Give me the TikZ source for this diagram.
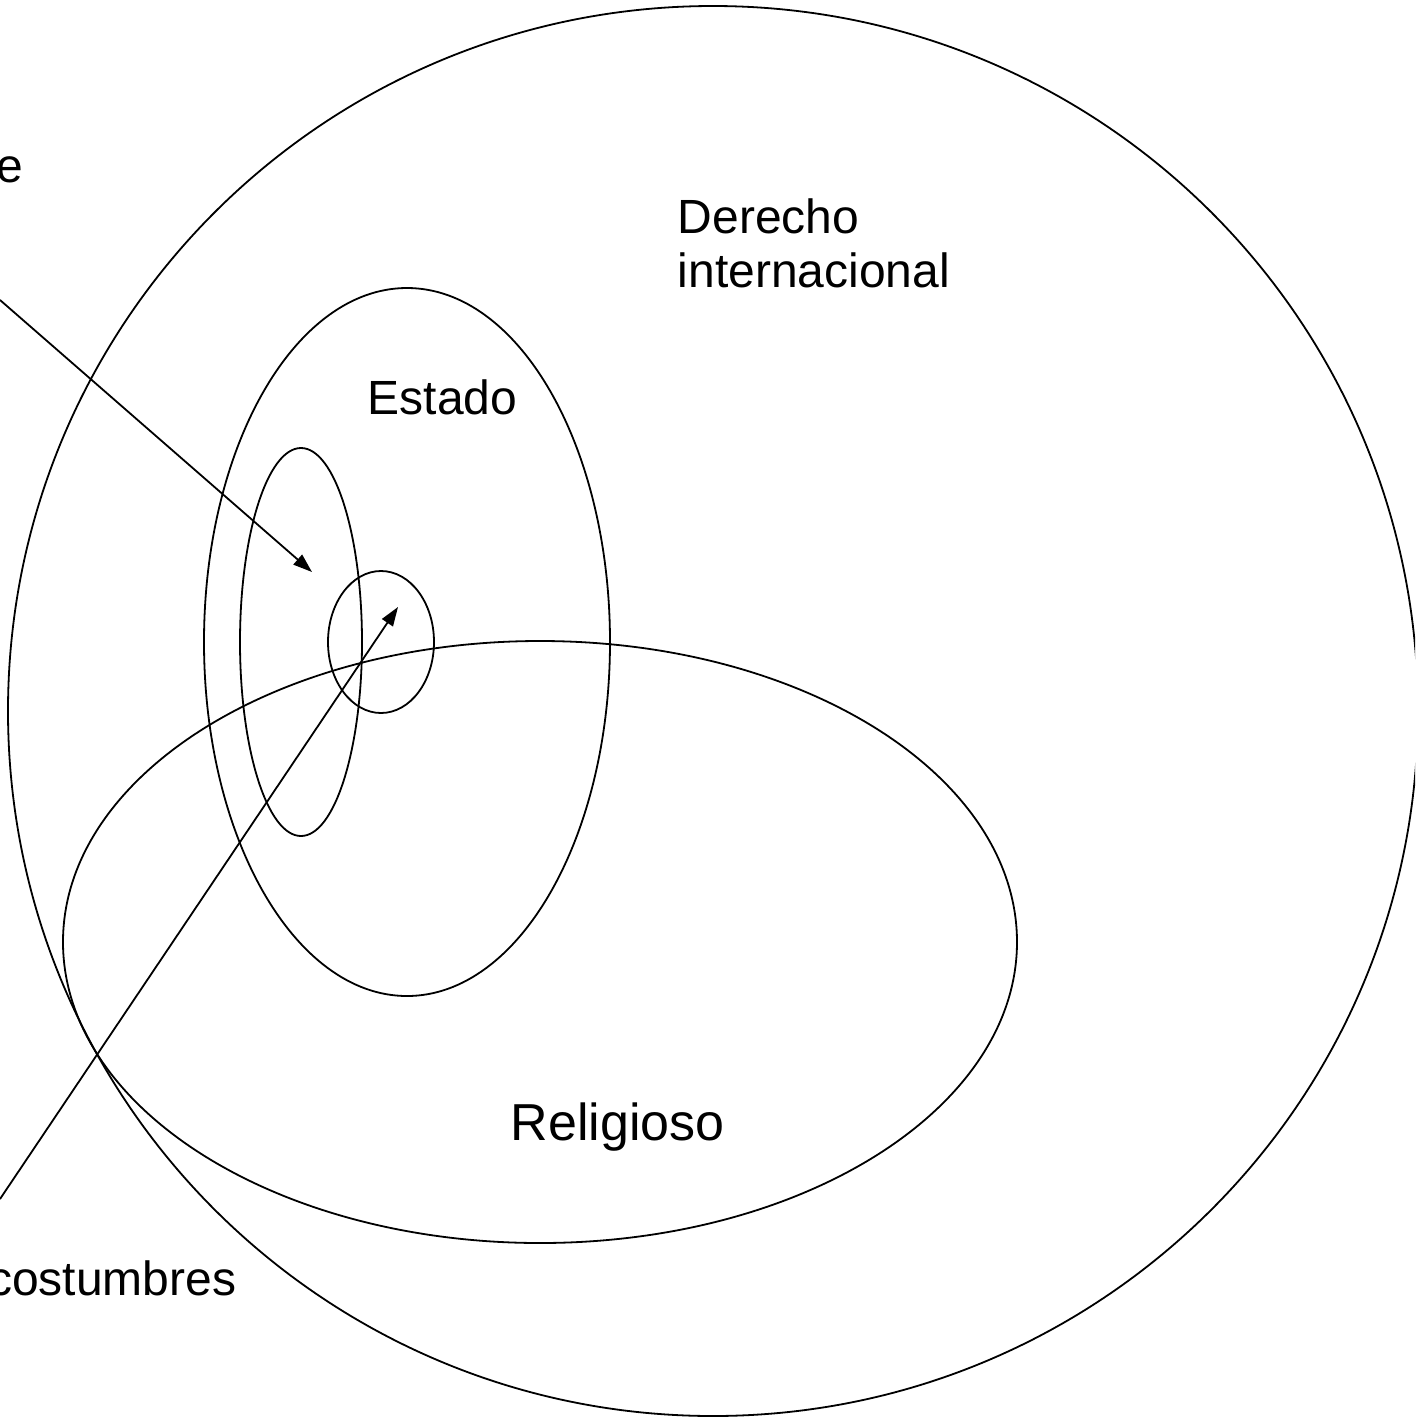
\documentclass[tikz,border=0pt]{standalone}
\usepackage{fontspec}
\setmainfont{Liberation Sans}
\usetikzlibrary{arrows.meta}

\begin{document}
\begin{tikzpicture}[x=0.5pt,y=-0.5pt,>={Triangle[length=9.5pt,width=6.5pt]},
                    line width=0.9pt,
                    set label/.style={font=\fontsize{24}{27}\selectfont,inner sep=0pt}]

  \clip (0,0) rectangle (1415,1420);

  % centres of the sets
  \coordinate (world)    at (713,711);
  \coordinate (estado)   at (407,642);
  \coordinate (inner)    at (301,642);
  \coordinate (core)     at (381,642);
  \coordinate (religion) at (540,942);

  \draw (world) circle [radius=705];
  \draw (estado) ellipse [x radius=203, y radius=354];
  \draw (inner) ellipse [x radius=61, y radius=194];
  \draw (core) ellipse [x radius=53, y radius=71];
  \draw (religion) ellipse [x radius=477, y radius=301];

  % labels
  \node[set label,anchor=base west,align=left] (derecho) at (677,287) {Derecho\\[0pt]internacional};
  \node[set label,anchor=base west] (estadolbl) at (367,414) {Estado};
  \node[set label,anchor=base west,font=\fontsize{26}{29}\selectfont] (religioso) at (510,1140) {Religioso};
  \node[set label,anchor=base east] (elbl) at (24,182) {e};
  \node[set label,anchor=base east] (costumbres) at (237,1295) {costumbres};

  % arrows
  \coordinate (start1) at (0,300);
  \coordinate (tip1)   at (312,572);
  \coordinate (start2) at (0,1199);
  \coordinate (tip2)   at (398,607);

  \draw[->] (start1) -- (tip1);
  \draw[->] (start2) -- (tip2);

\end{tikzpicture}
\end{document}
